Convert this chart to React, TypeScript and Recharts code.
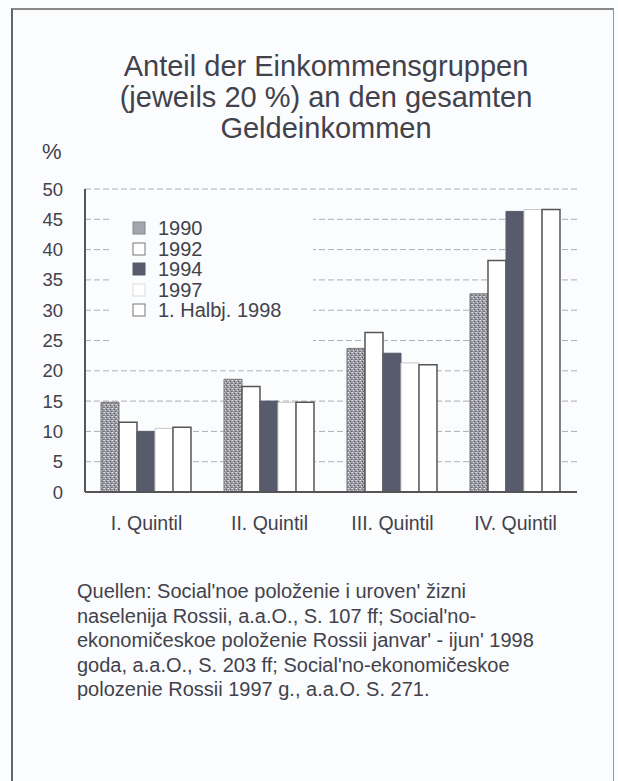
import { Bar, BarChart, CartesianGrid, XAxis, YAxis } from "recharts";

const quintile = ["I. Quintil", "II. Quintil", "III. Quintil", "IV. Quintil"];
const y1990 = [14.8, 18.6, 23.7, 32.7];
const y1992 = [11.5, 17.4, 26.3, 38.2];
const y1994 = [10.0, 15.0, 22.9, 46.3];
const y1997 = [10.5, 14.8, 21.3, 46.6];
const y1998 = [10.7, 14.8, 21.0, 46.6];
const yTicks = [0, 5, 10, 15, 20, 25, 30, 35, 40, 45, 50];

const seriesNames = ["1990", "1992", "1994", "1997", "1. Halbj. 1998"];

const sourceLines = [
  "Quellen: Social'noe položenie i uroven' žizni",
  "naselenija Rossii, a.a.O., S. 107 ff; Social'no-",
  "ekonomičeskoe položenie Rossii janvar' - ijun' 1998",
  "goda, a.a.O., S. 203 ff; Social'no-ekonomičeskoe",
  "polozenie Rossii 1997 g., a.a.O. S. 271.",
];

const data = quintile.map((q, i) => ({
  q,
  a: y1990[i],
  b: y1992[i],
  c: y1994[i],
  d: y1997[i],
  e: y1998[i],
}));

const font = "'Liberation Sans', Arial, sans-serif";
const ink = "#42424c";
const bg = "#fbfcfd";

const swatches = [
  { fill: "#a4a4ac", stroke: "#888" },
  { fill: "#fff", stroke: "#777" },
  { fill: "#585b6b", stroke: "#585b6b" },
  { fill: "#fff", stroke: "#dcdce0" },
  { fill: "#fff", stroke: "#777" },
];

export default function App() {
  return (
    <div
      style={{
        position: "absolute",
        left: 0,
        top: 0,
        width: 618,
        height: 781,
        background: bg,
        fontFamily: font,
        color: ink,
        overflow: "hidden",
      }}
    >
      <div
        style={{
          position: "absolute",
          left: 11,
          top: 8,
          width: 600,
          height: 790,
          borderLeft: "2px solid #666",
          borderTop: "2px solid #888",
          borderRight: "1px solid #999",
        }}
      />
      <div
        style={{
          position: "absolute",
          left: 26,
          top: 51,
          width: 600,
          textAlign: "center",
          fontSize: 29,
          lineHeight: "31px",
        }}
      >
        Anteil der Einkommensgruppen
        <br />
        (jeweils 20 %) an den gesamten
        <br />
        Geldeinkommen
      </div>
      <div style={{ position: "absolute", left: 42, top: 139, fontSize: 22 }}>%</div>

      <div style={{ position: "absolute", left: 0, top: 0 }}>
        <BarChart
          width={618}
          height={560}
          data={data}
          margin={{ top: 189, right: 41, left: 55, bottom: 0 }}
          barCategoryGap="13%"
          barGap={0}
        >
          <defs>
            <pattern id="stipple" width="4" height="4" patternUnits="userSpaceOnUse">
              <rect width="4" height="4" fill="#9c9ca4" />
              <rect x="0" y="0" width="1" height="1" fill="#e8e8ec" />
              <rect x="2" y="1" width="1" height="1" fill="#5a5a66" />
              <rect x="1" y="2" width="1" height="1" fill="#d8d8de" />
              <rect x="3" y="3" width="1" height="1" fill="#6a6a74" />
              <rect x="3" y="0" width="1" height="1" fill="#c4c4ca" />
              <rect x="0" y="3" width="1" height="1" fill="#7c7c86" />
            </pattern>
          </defs>
          <CartesianGrid
            vertical={false}
            stroke="#adadb5"
            strokeDasharray="6 3"
            horizontalValues={yTicks}
          />
          <XAxis
            dataKey="q"
            axisLine={{ stroke: "#555", strokeWidth: 2 }}
            tickLine={false}
            tick={{ fill: ink, fontSize: 19.5, fontFamily: font }}
            tickMargin={18}
            height={68}
          />
          <XAxis
            xAxisId="top"
            orientation="top"
            dataKey="q"
            axisLine={{ stroke: "#555", strokeWidth: 2 }}
            tick={false}
            tickLine={false}
            height={0}
          />
          <YAxis
            domain={[0, 50]}
            ticks={yTicks}
            interval={0}
            axisLine={{ stroke: "#555", strokeWidth: 2 }}
            tickLine={false}
            tickSize={0}
            tickMargin={22}
            tick={{ fill: ink, fontSize: 18.5, fontFamily: font }}
            width={30}
          />
          <YAxis
            yAxisId="right"
            orientation="right"
            domain={[0, 50]}
            axisLine={{ stroke: "#666", strokeWidth: 2 }}
            tick={false}
            tickLine={false}
            width={0}
          />
          <Bar dataKey="a" name={seriesNames[0]} fill="url(#stipple)" stroke="#777" strokeWidth={1} isAnimationActive={false} />
          <Bar dataKey="b" name={seriesNames[1]} fill="#fff" stroke="#555" strokeWidth={1.5} isAnimationActive={false} />
          <Bar dataKey="c" name={seriesNames[2]} fill="#585b6b" stroke="#585b6b" isAnimationActive={false} />
          <Bar dataKey="d" name={seriesNames[3]} fill="#fff" stroke="#c8c8cc" strokeWidth={1} isAnimationActive={false} />
          <Bar dataKey="e" name={seriesNames[4]} fill="#fff" stroke="#555" strokeWidth={1.5} isAnimationActive={false} />
        </BarChart>
      </div>

      <div
        style={{
          position: "absolute",
          left: 111,
          top: 203,
          width: 202,
          height: 150,
          background: bg,
        }}
      />
      <div style={{ position: "absolute", left: 132, top: 218 }}>
        {seriesNames.map((name, i) => (
          <div key={name} style={{ display: "flex", alignItems: "center", height: 20.5 }}>
            <svg width={14} height={14} style={{ marginRight: 12 }}>
              <rect
                x={1}
                y={1}
                width={12}
                height={12}
                fill={swatches[i].fill}
                stroke={swatches[i].stroke}
              />
            </svg>
            <span style={{ fontSize: 20, lineHeight: "20.5px" }}>{name}</span>
          </div>
        ))}
      </div>

      <div
        style={{
          position: "absolute",
          left: 77,
          top: 579,
          fontSize: 20,
          lineHeight: "24.6px",
          whiteSpace: "nowrap",
        }}
      >
        {sourceLines.map((l) => (
          <div key={l}>{l}</div>
        ))}
      </div>
    </div>
  );
}
